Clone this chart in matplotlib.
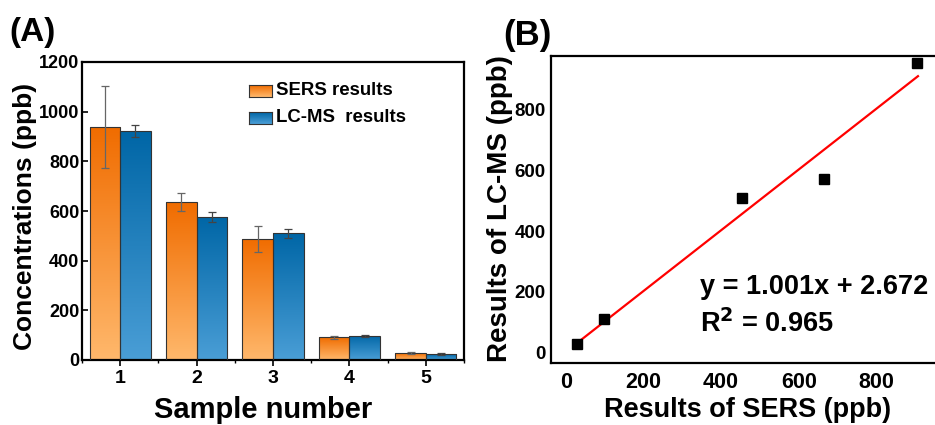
import numpy as np
import matplotlib
matplotlib.use("Agg")
import matplotlib.pyplot as plt
from matplotlib.colors import LinearSegmentedColormap
from matplotlib.ticker import MultipleLocator

plt.rcParams["font.family"] = ["Liberation Sans", "DejaVu Sans"]
plt.rcParams["font.weight"] = "bold"

# ── Data ──────────────────────────────────────────────────────────────────────
samples   = [1, 2, 3, 4, 5]
sers_mean = [940, 636, 488, 91, 27]
sers_err  = [165, 38, 53, 5, 4]
lcms_mean = [922, 576, 510, 98, 24]
lcms_err  = [25, 21, 18, 4, 3]

scatter_sers = [30, 98, 453, 666, 905]
scatter_lcms = [29, 111, 511, 572, 953]
fit_slope, fit_icpt = 1.001, 2.672
fit_x = [30, 907]

W, H = 935, 425
fig = plt.figure(figsize=(W / 100, H / 100), dpi=100)

sers_cmap = LinearSegmentedColormap.from_list("sers", ["#ffb86c", "#f06c00"])
lcms_cmap = LinearSegmentedColormap.from_list("lcms", ["#4a9ed6", "#0066a6"])


def gradient_bars(ax, xs, heights, width, cmap):
    bars = ax.bar(xs, heights, width=width, facecolor="none",
                  edgecolor="#333333", linewidth=0.8, zorder=3)
    grad = np.linspace(0, 1, 256).reshape(-1, 1)
    for b in bars:
        x0, y0 = b.get_x(), b.get_y()
        im = ax.imshow(grad, cmap=cmap, origin="lower", aspect="auto",
                       extent=[x0, x0 + b.get_width(), y0, y0 + b.get_height()],
                       zorder=2)
        im.set_clip_path(b)
    return bars


# ── Panel A ───────────────────────────────────────────────────────────────────
axA = fig.add_axes([82 / W, 1 - 360 / H, (464 - 82) / W, (360 - 62) / H])
xs = np.array(samples, dtype=float)
gradient_bars(axA, xs - 0.2, sers_mean, 0.4, sers_cmap)
gradient_bars(axA, xs + 0.2, lcms_mean, 0.4, lcms_cmap)
axA.errorbar(xs - 0.2, sers_mean, yerr=sers_err, fmt="none", ecolor="#666666",
             elinewidth=0.9, capsize=3, capthick=0.9, zorder=4)
axA.errorbar(xs + 0.2, lcms_mean, yerr=lcms_err, fmt="none", ecolor="#444444",
             elinewidth=0.9, capsize=3, capthick=0.9, zorder=4)

axA.set_xlim(0.5, 5.5)
axA.set_ylim(0, 1200)
axA.set_xticks(samples)
axA.xaxis.set_minor_locator(MultipleLocator(0.5))
axA.yaxis.set_major_locator(MultipleLocator(200))
axA.tick_params(axis="x", which="major", direction="out", length=4, width=1.2,
                labelsize=14, pad=3)
axA.tick_params(axis="x", which="minor", direction="out", length=2.5, width=1.0)
axA.tick_params(axis="y", direction="in", length=4, width=1.2, labelsize=13, pad=2)
for s in axA.spines.values():
    s.set_linewidth(1.6)

# legend boxes drawn by hand so the gradient swatches match
for i, (lab, cmap) in enumerate([("SERS results", sers_cmap),
                                 ("LC-MS  results", lcms_cmap)]):
    y_top = 1 - (84 + i * 27) / H
    lax = fig.add_axes([249 / W, y_top - 13 / H, 23 / W, 12 / H])
    lax.imshow(np.linspace(0, 1, 64).reshape(-1, 1), cmap=cmap,
               origin="lower", aspect="auto")
    lax.set_xticks([]); lax.set_yticks([])
    for s in lax.spines.values():
        s.set_linewidth(0.8); s.set_edgecolor("#333333")
    fig.text(276 / W, y_top - 6.5 / H, lab, fontsize=13.4, weight="bold",
             ha="left", va="center")

fig.text(25 / W, 1 - 216 / H, "Concentrations (ppb)", fontsize=19,
         weight="bold", rotation=90, ha="center", va="center")
fig.text(263 / W, 1 - 410 / H, "Sample number", fontsize=21,
         weight="bold", ha="center", va="center")
fig.text(9 / W, 1 - 33 / H, "(A)", fontsize=24, weight="bold",
         ha="left", va="center")

# ── Panel B ───────────────────────────────────────────────────────────────────
axB = fig.add_axes([551 / W, 1 - 362.7 / H, (937 - 551) / W, (362.7 - 56) / H])
line_x = np.array(fit_x, dtype=float)
axB.plot(line_x, fit_slope * line_x + fit_icpt, color="#ff0000", lw=1.6, zorder=2)
axB.plot(scatter_sers, scatter_lcms, ls="none", marker="s", ms=7.5,
         color="black", zorder=3)
axB.set_xlim(-38, 956)
axB.set_ylim(-33, 977)
axB.set_xticks([0, 200, 400, 600, 800])
axB.set_yticks([0, 200, 400, 600, 800])
axB.tick_params(axis="x", length=0, labelsize=15.5, pad=7)
axB.tick_params(axis="y", length=0, labelsize=13.5, pad=4)
for s in axB.spines.values():
    s.set_linewidth(1.6)

fig.text(700 / W, 1 - 287 / H, f"y = {fit_slope:.3f}x + {fit_icpt:.3f}",
         fontsize=19.5, weight="bold", ha="left", va="center")
fig.text(700 / W, 1 - 324 / H, r"R$^\mathbf{2}$ = 0.965",
         fontsize=19.5, weight="bold", ha="left", va="center")

fig.text(500 / W, 1 - 209 / H, "Results of LC-MS (ppb)", fontsize=20,
         weight="bold", rotation=90, ha="center", va="center")
fig.text(748 / W, 1 - 410 / H, "Results of SERS (ppb)", fontsize=19.5,
         weight="bold", ha="center", va="center")
fig.text(503 / W, 1 - 35 / H, "(B)", fontsize=25, weight="bold",
         ha="left", va="center")

fig.savefig("out.png", dpi=100)
